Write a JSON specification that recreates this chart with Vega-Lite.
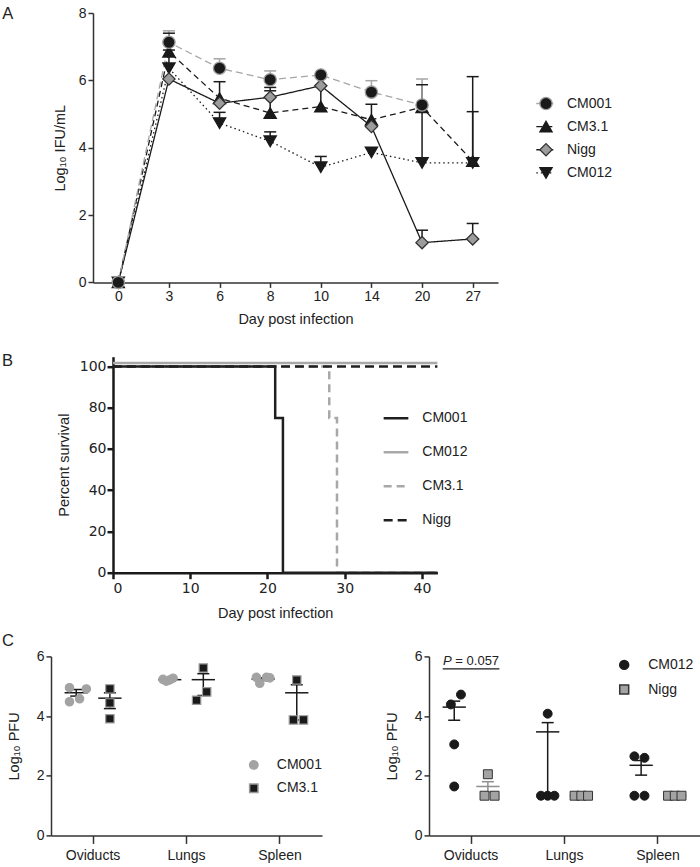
{
  "$schema": "https://vega.github.io/schema/vega-lite/v6.json",
  "background": "white",
  "padding": {"left": 0, "top": 5, "right": 0, "bottom": 0},
  "config": {
    "font": "Liberation Sans",
    "view": {"stroke": null},
    "axis": {"grid": false, "domainColor": "#333333", "tickColor": "#333333", "labelColor": "#222222", "titleColor": "#222222", "labelFontSize": 14, "titleFontSize": 14.5, "titleFontWeight": "normal", "domainWidth": 1.5, "tickWidth": 1.5, "tickSize": 5, "labelPadding": 2},
    "title": {"fontSize": 16.5, "fontWeight": "normal", "anchor": "start", "frame": "group", "color": "#222222", "offset": 0, "baseline": "alphabetic"},
    "legend": {"labelFontSize": 14, "labelColor": "#222222", "padding": 0}
  },
  "datasets": {
    "blank": [{"t": ""}],
    "growth": [
      {"strain": "CM012", "day": 0, "value": 0}, {"strain": "CM012", "day": 3, "value": 6.36}, {"strain": "CM012", "day": 6, "value": 4.73}, {"strain": "CM012", "day": 8, "value": 4.19}, {"strain": "CM012", "day": 10, "value": 3.42}, {"strain": "CM012", "day": 14, "value": 3.86}, {"strain": "CM012", "day": 20, "value": 3.55}, {"strain": "CM012", "day": 27, "value": 3.55},
      {"strain": "CM3.1", "day": 0, "value": 0}, {"strain": "CM3.1", "day": 3, "value": 6.85}, {"strain": "CM3.1", "day": 6, "value": 5.47}, {"strain": "CM3.1", "day": 8, "value": 5.03}, {"strain": "CM3.1", "day": 10, "value": 5.22}, {"strain": "CM3.1", "day": 14, "value": 4.83}, {"strain": "CM3.1", "day": 20, "value": 5.2}, {"strain": "CM3.1", "day": 27, "value": 3.6},
      {"strain": "Nigg", "day": 0, "value": 0}, {"strain": "Nigg", "day": 3, "value": 6.04}, {"strain": "Nigg", "day": 6, "value": 5.32}, {"strain": "Nigg", "day": 8, "value": 5.5}, {"strain": "Nigg", "day": 10, "value": 5.84}, {"strain": "Nigg", "day": 14, "value": 4.63}, {"strain": "Nigg", "day": 20, "value": 1.18}, {"strain": "Nigg", "day": 27, "value": 1.29},
      {"strain": "CM001", "day": 0, "value": 0}, {"strain": "CM001", "day": 3, "value": 7.13}, {"strain": "CM001", "day": 6, "value": 6.36}, {"strain": "CM001", "day": 8, "value": 6.02}, {"strain": "CM001", "day": 10, "value": 6.16}, {"strain": "CM001", "day": 14, "value": 5.65}, {"strain": "CM001", "day": 20, "value": 5.27}
    ],
    "growthErr": [
      {"strain": "CM012", "day": 3, "value": 6.36, "hi": 6.9}, {"strain": "CM012", "day": 6, "value": 4.73, "hi": 5.05}, {"strain": "CM012", "day": 8, "value": 4.19, "hi": 4.47}, {"strain": "CM012", "day": 10, "value": 3.42, "hi": 3.74}, {"strain": "CM012", "day": 20, "value": 3.55, "hi": 5.2}, {"strain": "CM012", "day": 27, "value": 3.55, "hi": 5.07},
      {"strain": "CM3.1", "day": 3, "value": 6.85, "hi": 7.4}, {"strain": "CM3.1", "day": 8, "value": 5.03, "hi": 5.69}, {"strain": "CM3.1", "day": 10, "value": 5.22, "hi": 5.84}, {"strain": "CM3.1", "day": 14, "value": 4.83, "hi": 5.29}, {"strain": "CM3.1", "day": 20, "value": 5.2, "hi": 5.87}, {"strain": "CM3.1", "day": 27, "value": 3.6, "hi": 6.11},
      {"strain": "Nigg", "day": 6, "value": 5.32, "hi": 5.96}, {"strain": "Nigg", "day": 8, "value": 5.5, "hi": 5.79}, {"strain": "Nigg", "day": 20, "value": 1.18, "hi": 1.55}, {"strain": "Nigg", "day": 27, "value": 1.29, "hi": 1.75},
      {"strain": "CM001", "day": 3, "value": 7.13, "hi": 7.47}, {"strain": "CM001", "day": 6, "value": 6.36, "hi": 6.64}, {"strain": "CM001", "day": 8, "value": 6.02, "hi": 6.28}, {"strain": "CM001", "day": 14, "value": 5.65, "hi": 5.99}, {"strain": "CM001", "day": 20, "value": 5.27, "hi": 6.04}
    ],
    "legendA": [{"strain": "CM001", "rank": 1}, {"strain": "CM3.1", "rank": 2}, {"strain": "Nigg", "rank": 3}, {"strain": "CM012", "rank": 4}],
    "survival": [
      {"strain": "CM012", "day": 0, "pct": 100}, {"strain": "CM012", "day": 42, "pct": 100},
      {"strain": "CM3.1", "day": 0, "pct": 100}, {"strain": "CM3.1", "day": 28, "pct": 75}, {"strain": "CM3.1", "day": 29, "pct": 0}, {"strain": "CM3.1", "day": 42, "pct": 0},
      {"strain": "Nigg", "day": 0, "pct": 100}, {"strain": "Nigg", "day": 42, "pct": 100},
      {"strain": "CM001", "day": 0, "pct": 100}, {"strain": "CM001", "day": 21, "pct": 75}, {"strain": "CM001", "day": 22, "pct": 0}, {"strain": "CM001", "day": 42, "pct": 0}
    ],
    "pfuL": [
      {"tissue": "Oviducts", "strain": "CM001", "slot": 5, "value": 4.95}, {"tissue": "Oviducts", "strain": "CM001", "slot": 10, "value": 4.91}, {"tissue": "Oviducts", "strain": "CM001", "slot": 5, "value": 4.48}, {"tissue": "Oviducts", "strain": "CM001", "slot": 8, "value": 4.58},
      {"tissue": "Oviducts", "strain": "CM3.1", "slot": 17, "value": 4.91}, {"tissue": "Oviducts", "strain": "CM3.1", "slot": 17, "value": 4.44}, {"tissue": "Oviducts", "strain": "CM3.1", "slot": 17, "value": 3.91},
      {"tissue": "Lungs", "strain": "CM001", "slot": 5, "value": 5.23}, {"tissue": "Lungs", "strain": "CM001", "slot": 6, "value": 5.17}, {"tissue": "Lungs", "strain": "CM001", "slot": 7, "value": 5.21}, {"tissue": "Lungs", "strain": "CM001", "slot": 8, "value": 5.27},
      {"tissue": "Lungs", "strain": "CM3.1", "slot": 17, "value": 5.61}, {"tissue": "Lungs", "strain": "CM3.1", "slot": 18, "value": 4.81}, {"tissue": "Lungs", "strain": "CM3.1", "slot": 15, "value": 4.53},
      {"tissue": "Spleen", "strain": "CM001", "slot": 5, "value": 5.3}, {"tissue": "Spleen", "strain": "CM001", "slot": 6, "value": 5.1}, {"tissue": "Spleen", "strain": "CM001", "slot": 8, "value": 5.3}, {"tissue": "Spleen", "strain": "CM001", "slot": 9, "value": 5.28},
      {"tissue": "Spleen", "strain": "CM3.1", "slot": 17, "value": 5.21}, {"tissue": "Spleen", "strain": "CM3.1", "slot": 16, "value": 3.87}, {"tissue": "Spleen", "strain": "CM3.1", "slot": 19, "value": 3.87}
    ],
    "pfuLsum": [
      {"tissue": "Oviducts", "strain": "CM001", "slot": 7, "mean": 4.78, "lo": 4.67, "hi": 4.89},
      {"tissue": "Oviducts", "strain": "CM3.1", "slot": 17, "mean": 4.6, "lo": 4.25, "hi": 4.78},
      {"tissue": "Lungs", "strain": "CM001", "slot": 7, "mean": 5.22, "lo": 5.19, "hi": 5.25},
      {"tissue": "Lungs", "strain": "CM3.1", "slot": 17, "mean": 5.22, "lo": 4.69, "hi": 5.42},
      {"tissue": "Spleen", "strain": "CM001", "slot": 7, "mean": 5.24, "lo": 5.2, "hi": 5.28},
      {"tissue": "Spleen", "strain": "CM3.1", "slot": 17, "mean": 4.78, "lo": 3.87, "hi": 5.05}
    ],
    "pfuR": [
      {"tissue": "Oviducts", "strain": "CM012", "slot": 9, "value": 4.72}, {"tissue": "Oviducts", "strain": "CM012", "slot": 6, "value": 4.39}, {"tissue": "Oviducts", "strain": "CM012", "slot": 7, "value": 3.05}, {"tissue": "Oviducts", "strain": "CM012", "slot": 7, "value": 1.64},
      {"tissue": "Oviducts", "strain": "Nigg", "slot": 17, "value": 2.05}, {"tissue": "Oviducts", "strain": "Nigg", "slot": 16, "value": 1.33}, {"tissue": "Oviducts", "strain": "Nigg", "slot": 19, "value": 1.33},
      {"tissue": "Lungs", "strain": "CM012", "slot": 7, "value": 4.08}, {"tissue": "Lungs", "strain": "CM012", "slot": 5, "value": 1.33}, {"tissue": "Lungs", "strain": "CM012", "slot": 7, "value": 1.33}, {"tissue": "Lungs", "strain": "CM012", "slot": 9, "value": 1.33},
      {"tissue": "Lungs", "strain": "Nigg", "slot": 15, "value": 1.33}, {"tissue": "Lungs", "strain": "Nigg", "slot": 17, "value": 1.33}, {"tissue": "Lungs", "strain": "Nigg", "slot": 19, "value": 1.33},
      {"tissue": "Spleen", "strain": "CM012", "slot": 5, "value": 2.65}, {"tissue": "Spleen", "strain": "CM012", "slot": 8, "value": 2.6}, {"tissue": "Spleen", "strain": "CM012", "slot": 5, "value": 1.33}, {"tissue": "Spleen", "strain": "CM012", "slot": 8, "value": 1.33},
      {"tissue": "Spleen", "strain": "Nigg", "slot": 15, "value": 1.33}, {"tissue": "Spleen", "strain": "Nigg", "slot": 17, "value": 1.33}, {"tissue": "Spleen", "strain": "Nigg", "slot": 19, "value": 1.33}
    ],
    "pfuRsum": [
      {"tissue": "Oviducts", "strain": "CM012", "slot": 7, "mean": 4.3, "lo": 3.86, "hi": 4.5},
      {"tissue": "Oviducts", "strain": "Nigg", "slot": 17, "mean": 1.64, "lo": 1.45, "hi": 1.8},
      {"tissue": "Lungs", "strain": "CM012", "slot": 7, "mean": 3.47, "lo": 1.33, "hi": 3.78},
      {"tissue": "Lungs", "strain": "Nigg", "slot": 17, "mean": 1.33, "lo": 1.33, "hi": 1.33},
      {"tissue": "Spleen", "strain": "CM012", "slot": 7, "mean": 2.35, "lo": 2.02, "hi": 2.51},
      {"tissue": "Spleen", "strain": "Nigg", "slot": 17, "mean": 1.33, "lo": 1.33, "hi": 1.33}
    ],
    "pNote": [{"tissue": "Oviducts", "slot": 12, "value": 5.58, "p": "P", "rest": "= 0.057"}]
  },
  "spacing": 13.7,
  "resolve": {
    "scale": {"color": "independent", "fill": "independent", "stroke": "independent", "shape": "independent", "strokeDash": "independent", "x": "independent", "y": "independent"},
    "legend": {"color": "independent", "fill": "independent", "stroke": "independent", "shape": "independent", "strokeDash": "independent"}
  },
  "vconcat": [
    {
      "bounds": "flush",
      "spacing": 0,
      "resolve": {
        "scale": {"color": "independent", "fill": "independent", "stroke": "independent", "shape": "independent", "strokeDash": "independent", "x": "independent", "y": "independent"},
        "legend": {"color": "independent", "fill": "independent", "stroke": "independent", "shape": "independent", "strokeDash": "independent"}
      },
      "hconcat": [
        {
          "width": 92.7, "height": 1,
          "data": {"name": "blank"},
          "mark": {"type": "text"},
          "encoding": {"text": {"field": "t"}}
        },
        {
          "width": 405,
          "height": 269.4,
          "title": {"text": "A", "dx": -90.7, "dy": 20},
          "encoding": {
            "x": {"field": "day", "type": "ordinal", "scale": {"type": "point", "padding": 0.5, "domain": [0, 3, 6, 8, 10, 14, 20, 27]}, "axis": {"labelAngle": 0, "title": "Day post infection", "titlePadding": 9}}
          },
          "layer": [
            {
              "data": {"name": "growth"},
              "mark": {"type": "line", "strokeWidth": 1.3},
              "encoding": {
                "y": {"field": "value", "type": "quantitative", "scale": {"domain": [0, 8], "nice": false}, "axis": {"values": [0, 2, 4, 6, 8], "title": "Log₁₀ IFU/mL", "titlePadding": 11}},
                "color": {"field": "strain", "type": "nominal", "scale": {"domain": ["CM001", "CM3.1", "Nigg", "CM012"], "range": ["#a6a6a6", "#1a1a1a", "#1a1a1a", "#1a1a1a"]}, "legend": null},
                "strokeDash": {"field": "strain", "type": "nominal", "scale": {"domain": ["CM001", "CM3.1", "Nigg", "CM012"], "range": [[7, 4], [6, 4], [1, 0], [1.5, 3]]}, "legend": null}
              }
            },
            {
              "data": {"name": "growthErr"},
              "mark": {"type": "rule", "strokeWidth": 1.5},
              "encoding": {
                "y": {"field": "value", "type": "quantitative", "scale": {"domain": [0, 8], "nice": false}, "axis": {"values": [0, 2, 4, 6, 8], "title": "Log₁₀ IFU/mL", "titlePadding": 11}},
                "y2": {"field": "hi"},
                "color": {"field": "strain", "type": "nominal", "scale": {"domain": ["CM001", "CM3.1", "Nigg", "CM012"], "range": ["#a6a6a6", "#1a1a1a", "#1a1a1a", "#1a1a1a"]}, "legend": null}
              }
            },
            {
              "data": {"name": "growthErr"},
              "mark": {"type": "tick", "size": 12, "thickness": 1.5, "opacity": 1},
              "encoding": {
                "y": {"field": "hi", "type": "quantitative", "scale": {"domain": [0, 8], "nice": false}, "axis": {"values": [0, 2, 4, 6, 8], "title": "Log₁₀ IFU/mL", "titlePadding": 11}},
                "color": {"field": "strain", "type": "nominal", "scale": {"domain": ["CM001", "CM3.1", "Nigg", "CM012"], "range": ["#a6a6a6", "#1a1a1a", "#1a1a1a", "#1a1a1a"]}, "legend": null}
              }
            },
            {
              "data": {"name": "growth"},
              "mark": {"type": "point", "filled": true, "size": 150, "opacity": 1, "strokeWidth": 1.3},
              "encoding": {
                "y": {"field": "value", "type": "quantitative", "scale": {"domain": [0, 8], "nice": false}, "axis": {"values": [0, 2, 4, 6, 8], "title": "Log₁₀ IFU/mL", "titlePadding": 11}},
                "shape": {"field": "strain", "type": "nominal", "scale": {"domain": ["CM001", "CM3.1", "Nigg", "CM012"], "range": ["circle", "triangle-up", "diamond", "triangle-down"]}, "legend": null},
                "fill": {"field": "strain", "type": "nominal", "scale": {"domain": ["CM001", "CM3.1", "Nigg", "CM012"], "range": ["#1a1a1a", "#1a1a1a", "#9c9c9c", "#1a1a1a"]}, "legend": null},
                "stroke": {"field": "strain", "type": "nominal", "scale": {"domain": ["CM001", "CM3.1", "Nigg", "CM012"], "range": ["#9c9c9c", "#1a1a1a", "#333333", "#1a1a1a"]}, "legend": null}
              }
            }
          ]
        },
        {
          "width": 132,
          "height": 323.75,
          "data": {"name": "legendA"},
          "encoding": {
            "y": {"field": "rank", "type": "quantitative", "scale": {"domain": [-2.913, 11.084], "nice": false, "zero": false, "reverse": true}, "axis": null}
          },
          "layer": [
            {
              "mark": {"type": "rule", "strokeWidth": 1.3},
              "encoding": {
                "x": {"datum": 38.3, "type": "quantitative", "scale": {"domain": [0, 132], "nice": false}, "axis": null},
                "x2": {"datum": 55.3},
                "color": {"field": "strain", "type": "nominal", "scale": {"domain": ["CM001", "CM3.1", "Nigg", "CM012"], "range": ["#a6a6a6", "#1a1a1a", "#1a1a1a", "#1a1a1a"]}, "legend": null},
                "strokeDash": {"field": "strain", "type": "nominal", "scale": {"domain": ["CM001", "CM3.1", "Nigg", "CM012"], "range": [[7, 4], [6, 4], [1, 0], [1.5, 3]]}, "legend": null}
              }
            },
            {
              "mark": {"type": "point", "filled": true, "size": 150, "opacity": 1, "strokeWidth": 1.3},
              "encoding": {
                "x": {"datum": 48, "type": "quantitative", "scale": {"domain": [0, 132], "nice": false}, "axis": null},
                "shape": {"field": "strain", "type": "nominal", "scale": {"domain": ["CM001", "CM3.1", "Nigg", "CM012"], "range": ["circle", "triangle-up", "diamond", "triangle-down"]}, "legend": null},
                "fill": {"field": "strain", "type": "nominal", "scale": {"domain": ["CM001", "CM3.1", "Nigg", "CM012"], "range": ["#1a1a1a", "#1a1a1a", "#9c9c9c", "#1a1a1a"]}, "legend": null},
                "stroke": {"field": "strain", "type": "nominal", "scale": {"domain": ["CM001", "CM3.1", "Nigg", "CM012"], "range": ["#9c9c9c", "#1a1a1a", "#333333", "#1a1a1a"]}, "legend": null}
              }
            },
            {
              "mark": {"type": "text", "align": "left", "baseline": "middle", "fontSize": 14, "color": "#222222"},
              "encoding": {
                "x": {"datum": 69, "type": "quantitative", "scale": {"domain": [0, 132], "nice": false}, "axis": null},
                "text": {"field": "strain"}
              }
            }
          ]
        }
      ]
    },
    {
      "bounds": "flush",
      "spacing": 0,
      "resolve": {
        "scale": {"color": "independent", "strokeDash": "independent", "x": "independent", "y": "independent"},
        "legend": {"color": "independent", "strokeDash": "independent"}
      },
      "hconcat": [
        {
          "width": 113, "height": 1,
          "data": {"name": "blank"},
          "mark": {"type": "text"},
          "encoding": {"text": {"field": "t"}}
        },
        {
          "width": 324.4,
          "height": 216,
          "title": {"text": "B", "dx": -111, "dy": 17},
          "data": {"name": "survival"},
          "encoding": {
            "x": {"field": "day", "type": "quantitative", "scale": {"domain": [0, 42], "nice": false}, "axis": {"values": [0, 10, 20, 30, 40], "title": "Day post infection", "labelFont": "DejaVu Sans", "labelFontSize": 14, "domainColor": "#1a1a1a", "tickColor": "#1a1a1a", "domainWidth": 2.5, "tickWidth": 2.5, "tickSize": 6, "labelPadding": 3, "titlePadding": 10.5}},
            "y": {"field": "pct", "type": "quantitative", "scale": {"domain": [0, 104.7], "nice": false}, "axis": {"values": [0, 20, 40, 60, 80, 100], "title": "Percent survival", "labelFont": "DejaVu Sans", "labelFontSize": 14, "domainColor": "#1a1a1a", "tickColor": "#1a1a1a", "domainWidth": 2.5, "tickWidth": 2.5, "tickSize": 6, "labelPadding": 1, "titlePadding": 8}},
            "color": {"field": "strain", "type": "nominal", "scale": {"domain": ["CM001", "CM012", "CM3.1", "Nigg"], "range": ["#1f1f1f", "#a8a8a8", "#a8a8a8", "#1f1f1f"]}, "legend": {"orient": "none", "legendX": 269, "legendY": 47.6, "title": null, "symbolType": "stroke", "symbolSize": 610, "symbolStrokeWidth": 2.5, "rowPadding": 13, "labelOffset": 12.3, "labelFontSize": 14}},
            "strokeDash": {"field": "strain", "type": "nominal", "scale": {"domain": ["CM001", "CM012", "CM3.1", "Nigg"], "range": [[1, 0], [1, 0], [8, 5], [9, 5]]}, "legend": {"orient": "none", "legendX": 269, "legendY": 47.6, "title": null, "symbolType": "stroke", "symbolSize": 610, "symbolStrokeWidth": 2.5, "rowPadding": 13, "labelOffset": 12.3, "labelFontSize": 14}}
          },
          "layer": [
            {"transform": [{"filter": "datum.strain === 'CM012'"}], "mark": {"type": "line", "interpolate": "step-after", "strokeWidth": 2.5, "yOffset": -3.4}},
            {"transform": [{"filter": "datum.strain === 'CM3.1'"}], "mark": {"type": "line", "interpolate": "step-after", "strokeWidth": 2.5}},
            {"transform": [{"filter": "datum.strain === 'Nigg'"}], "mark": {"type": "line", "interpolate": "step-after", "strokeWidth": 2.5}},
            {"transform": [{"filter": "datum.strain === 'CM001'"}], "mark": {"type": "line", "interpolate": "step-after", "strokeWidth": 2.5}}
          ]
        }
      ]
    },
    {
      "bounds": "flush",
      "spacing": 0,
      "resolve": {
        "scale": {"color": "independent", "fill": "independent", "stroke": "independent", "shape": "independent", "strokeDash": "independent", "x": "independent", "y": "independent", "xOffset": "independent"},
        "legend": {"color": "independent", "fill": "independent", "stroke": "independent", "shape": "independent", "strokeDash": "independent"}
      },
      "hconcat": [
        {
          "width": 51, "height": 1,
          "data": {"name": "blank"},
          "mark": {"type": "text"},
          "encoding": {"text": {"field": "t"}}
        },
        {
          "width": 271,
          "height": 179,
          "title": {"text": "C", "dx": -49, "dy": 4.5},
          "encoding": {
            "x": {"field": "tissue", "type": "nominal", "sort": ["Oviducts", "Lungs", "Spleen"], "scale": {"type": "band", "paddingInner": 0.1, "paddingOuter": 0}, "axis": {"title": null, "labelAngle": 0, "tickSize": 8, "labelPadding": 5}},
            "xOffset": {"field": "slot", "type": "nominal", "scale": {"domain": [0, 1, 2, 3, 4, 5, 6, 7, 8, 9, 10, 11, 12, 13, 14, 15, 16, 17, 18, 19, 20, 21, 22, 23, 24], "paddingInner": 0, "paddingOuter": 0}}
          },
          "layer": [
            {
              "data": {"name": "pfuLsum"},
              "mark": {"type": "rule", "strokeWidth": 1.5, "color": "#1a1a1a"},
              "encoding": {
                "y": {"field": "lo", "type": "quantitative", "scale": {"domain": [0, 6], "nice": false}, "axis": {"values": [0, 2, 4, 6], "title": "Log₁₀ PFU", "titlePadding": 15}},
                "y2": {"field": "hi"}
              }
            },
            {
              "data": {"name": "pfuLsum"},
              "mark": {"type": "tick", "size": 12, "thickness": 1.5, "color": "#1a1a1a", "opacity": 1},
              "encoding": {"y": {"field": "hi", "type": "quantitative", "scale": {"domain": [0, 6], "nice": false}, "axis": {"values": [0, 2, 4, 6], "title": "Log₁₀ PFU", "titlePadding": 15}}}
            },
            {
              "data": {"name": "pfuLsum"},
              "mark": {"type": "tick", "size": 12, "thickness": 1.5, "color": "#1a1a1a", "opacity": 1},
              "encoding": {"y": {"field": "lo", "type": "quantitative", "scale": {"domain": [0, 6], "nice": false}, "axis": {"values": [0, 2, 4, 6], "title": "Log₁₀ PFU", "titlePadding": 15}}}
            },
            {
              "data": {"name": "pfuLsum"},
              "mark": {"type": "tick", "size": 23.3, "thickness": 1.5, "color": "#1a1a1a", "opacity": 1},
              "encoding": {"y": {"field": "mean", "type": "quantitative", "scale": {"domain": [0, 6], "nice": false}, "axis": {"values": [0, 2, 4, 6], "title": "Log₁₀ PFU", "titlePadding": 15}}}
            },
            {
              "data": {"name": "pfuL"},
              "mark": {"type": "point", "filled": true, "opacity": 1, "strokeWidth": 1.2},
              "encoding": {
                "y": {"field": "value", "type": "quantitative", "scale": {"domain": [0, 6], "nice": false}, "axis": {"values": [0, 2, 4, 6], "title": "Log₁₀ PFU", "titlePadding": 15}},
                "shape": {"field": "strain", "type": "nominal", "scale": {"domain": ["CM001", "CM3.1"], "range": ["circle", "square"]}, "legend": {"orient": "none", "legendX": 195.8, "legendY": 101.5, "title": null, "rowPadding": 7.3, "labelOffset": 16, "symbolSize": 70, "labelFontSize": 14}},
                "fill": {"field": "strain", "type": "nominal", "scale": {"domain": ["CM001", "CM3.1"], "range": ["#a3a3a3", "#1a1a1a"]}, "legend": {"orient": "none", "legendX": 195.8, "legendY": 101.5, "title": null, "rowPadding": 7.3, "labelOffset": 16, "symbolSize": 70, "labelFontSize": 14}},
                "stroke": {"field": "strain", "type": "nominal", "scale": {"domain": ["CM001", "CM3.1"], "range": ["#a3a3a3", "#9a9a9a"]}, "legend": {"orient": "none", "legendX": 195.8, "legendY": 101.5, "title": null, "rowPadding": 7.3, "labelOffset": 16, "symbolSize": 70, "labelFontSize": 14}},
                "size": {"value": 70}
              }
            }
          ]
        },
        {
          "width": 107, "height": 1,
          "data": {"name": "blank"},
          "mark": {"type": "text"},
          "encoding": {"text": {"field": "t"}}
        },
        {
          "width": 271,
          "height": 179,
          "encoding": {
            "x": {"field": "tissue", "type": "nominal", "sort": ["Oviducts", "Lungs", "Spleen"], "scale": {"type": "band", "paddingInner": 0.1, "paddingOuter": 0}, "axis": {"title": null, "labelAngle": 0, "tickSize": 8, "labelPadding": 5}},
            "xOffset": {"field": "slot", "type": "nominal", "scale": {"domain": [0, 1, 2, 3, 4, 5, 6, 7, 8, 9, 10, 11, 12, 13, 14, 15, 16, 17, 18, 19, 20, 21, 22, 23, 24], "paddingInner": 0, "paddingOuter": 0}}
          },
          "layer": [
            {
              "data": {"name": "pfuRsum"},
              "mark": {"type": "rule", "strokeWidth": 1.5},
              "encoding": {
                "y": {"field": "lo", "type": "quantitative", "scale": {"domain": [0, 6], "nice": false}, "axis": {"values": [0, 2, 4, 6], "title": "Log₁₀ PFU", "titlePadding": 15}},
                "y2": {"field": "hi"},
                "color": {"condition": {"test": "datum.strain === 'Nigg'", "value": "#8f8f8f"}, "value": "#1a1a1a"}
              }
            },
            {
              "data": {"name": "pfuRsum"},
              "mark": {"type": "tick", "size": 12, "thickness": 1.5, "opacity": 1},
              "encoding": {
                "y": {"field": "hi", "type": "quantitative", "scale": {"domain": [0, 6], "nice": false}, "axis": {"values": [0, 2, 4, 6], "title": "Log₁₀ PFU", "titlePadding": 15}},
                "color": {"condition": {"test": "datum.strain === 'Nigg'", "value": "#8f8f8f"}, "value": "#1a1a1a"}
              }
            },
            {
              "data": {"name": "pfuRsum"},
              "mark": {"type": "tick", "size": 12, "thickness": 1.5, "opacity": 1},
              "encoding": {
                "y": {"field": "lo", "type": "quantitative", "scale": {"domain": [0, 6], "nice": false}, "axis": {"values": [0, 2, 4, 6], "title": "Log₁₀ PFU", "titlePadding": 15}},
                "color": {"condition": {"test": "datum.strain === 'Nigg'", "value": "#8f8f8f"}, "value": "#1a1a1a"}
              }
            },
            {
              "data": {"name": "pfuRsum"},
              "mark": {"type": "tick", "size": 23.3, "thickness": 1.5, "opacity": 1},
              "encoding": {
                "y": {"field": "mean", "type": "quantitative", "scale": {"domain": [0, 6], "nice": false}, "axis": {"values": [0, 2, 4, 6], "title": "Log₁₀ PFU", "titlePadding": 15}},
                "color": {"condition": {"test": "datum.strain === 'Nigg'", "value": "#8f8f8f"}, "value": "#1a1a1a"}
              }
            },
            {
              "data": {"name": "pfuR"},
              "mark": {"type": "point", "filled": true, "opacity": 1, "strokeWidth": 1},
              "encoding": {
                "y": {"field": "value", "type": "quantitative", "scale": {"domain": [0, 6], "nice": false}, "axis": {"values": [0, 2, 4, 6], "title": "Log₁₀ PFU", "titlePadding": 15}},
                "shape": {"field": "strain", "type": "nominal", "scale": {"domain": ["CM012", "Nigg"], "range": ["circle", "square"]}, "legend": {"orient": "none", "legendX": 188.2, "legendY": 1.5, "title": null, "rowPadding": 8.6, "labelOffset": 17, "symbolSize": 80, "labelFontSize": 14}},
                "fill": {"field": "strain", "type": "nominal", "scale": {"domain": ["CM012", "Nigg"], "range": ["#1a1a1a", "#a3a3a3"]}, "legend": {"orient": "none", "legendX": 188.2, "legendY": 1.5, "title": null, "rowPadding": 8.6, "labelOffset": 17, "symbolSize": 80, "labelFontSize": 14}},
                "stroke": {"field": "strain", "type": "nominal", "scale": {"domain": ["CM012", "Nigg"], "range": ["#1a1a1a", "#333333"]}, "legend": {"orient": "none", "legendX": 188.2, "legendY": 1.5, "title": null, "rowPadding": 8.6, "labelOffset": 17, "symbolSize": 80, "labelFontSize": 14}},
                "size": {"value": 80}
              }
            },
            {
              "data": {"name": "pNote"},
              "mark": {"type": "tick", "size": 56.7, "thickness": 1.3, "color": "#1a1a1a", "opacity": 1},
              "encoding": {"y": {"field": "value", "type": "quantitative", "scale": {"domain": [0, 6], "nice": false}, "axis": {"values": [0, 2, 4, 6], "title": "Log₁₀ PFU", "titlePadding": 15}}}
            },
            {
              "data": {"name": "pNote"},
              "mark": {"type": "text", "align": "left", "baseline": "alphabetic", "dx": -28, "dy": -4, "fontSize": 13, "fontStyle": "italic", "color": "#222222"},
              "encoding": {"y": {"field": "value", "type": "quantitative", "scale": {"domain": [0, 6], "nice": false}, "axis": {"values": [0, 2, 4, 6], "title": "Log₁₀ PFU", "titlePadding": 15}}, "text": {"field": "p"}}
            },
            {
              "data": {"name": "pNote"},
              "mark": {"type": "text", "align": "left", "baseline": "alphabetic", "dx": -15.7, "dy": -4, "fontSize": 13, "color": "#222222"},
              "encoding": {"y": {"field": "value", "type": "quantitative", "scale": {"domain": [0, 6], "nice": false}, "axis": {"values": [0, 2, 4, 6], "title": "Log₁₀ PFU", "titlePadding": 15}}, "text": {"field": "rest"}}
            }
          ]
        }
      ]
    }
  ]
}
